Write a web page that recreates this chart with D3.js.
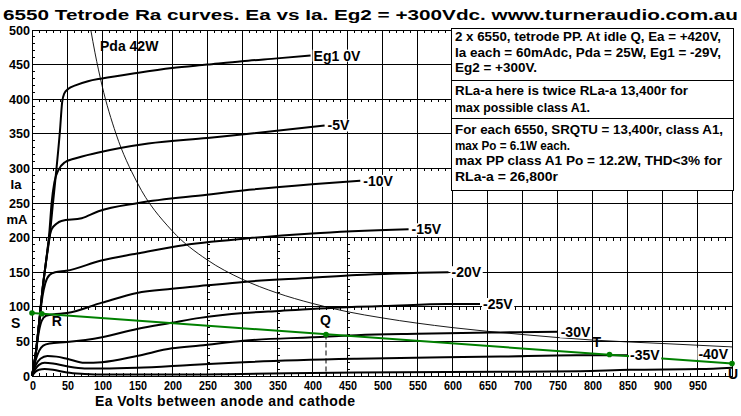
<!DOCTYPE html>
<html>
<head>
<meta charset="utf-8">
<script src="https://cdn.jsdelivr.net/npm/d3@7/dist/d3.min.js"></script>
<style>
  body{margin:0;background:#fff;}
  svg{display:block;}
  text{font-family:"Liberation Sans",Arial,sans-serif;font-weight:bold;fill:#000;}
</style>
</head>
<body>
<script>
// curves: [Ea volts, Ia mA]
const eg1_0  = [[0,0],[5,30],[10,75],[15,125],[20,165],[25,200],[30,250],[35,300],[40,355],[43,395],[46,408],[52,415],[62,420],[80,426],[100,430],[150,438],[200,445],[250,450],[300,455],[350,459],[398,463]];
const eg1_5  = [[0,0],[5,30],[10,75],[15,125],[20,165],[25,210],[28,250],[32,280],[38,298],[47,309],[60,314],[95,323],[166,336],[250,344],[310,350],[418,362]];
const eg1_10 = [[0,0],[5,30],[10,75],[15,125],[20,165],[24,195],[28,212],[35,220],[42,224],[71,228],[95,238],[152,250],[250,262],[310,269],[400,277],[469,282]];
const eg1_15 = [[0,0],[5,30],[10,75],[15,115],[19,134],[25,146],[33,150],[49,152],[99,167],[150,177],[209,188],[309,199],[400,206],[538,212]];
const eg1_20 = [[0,0],[5,30],[10,65],[14,80],[20,87],[30,89],[50,91],[100,106],[150,120],[200,126],[250,131],[302,136],[400,142],[464,146],[595,150]];
const eg1_25 = [[0,0],[5,22],[10,36],[16,44],[25,47],[50,49],[100,56],[150,68],[200,77],[240,84],[302,91],[354,94],[464,100],[502,101],[592,104],[640,104]];
const eg1_30 = [[0,0],[5,15],[12,25],[22,29],[35,28],[50,25],[75,19],[100,20],[150,29],[200,40],[240,44],[302,51],[400,56],[464,59],[550,61],[669,63],[751,64]];
const eg1_35 = [[0,0],[5,10],[10,16],[18,19],[30,18],[50,14],[75,11],[100,11],[150,12],[226,16],[302,20],[464,25],[669,28],[778,30],[850,30]];
const eg1_40 = [[0,0],[5,6],[10,9],[18,10],[30,9],[50,5],[75,3],[100,2],[200,2],[300,3],[464,5],[669,6],[783,7],[854,9],[954,10],[1000,12]];
const curveLabels = ["Eg1 0V","-5V","-10V","-15V","-20V","-25V","-30V","-35V","-40V"];

// 42W anode dissipation limit
const pda42 = [[84,500],[90,467],[100,420],[120,350],[150,280],[200,210],[250,168],[300,140],[350,120],[400,105],[450,93],[500,84],[600,70],[700,60],[800,52],[900,47],[1000,42]];

// load line points S R Q T U
const loadNames = ["S","R","Q","T","U"];
const loadPts = [[0,91],[14,90],[420,60],[825,31],[1000,18]];

const xTicks = d3.range(0,951,50);
const yTicks = d3.range(0,501,50);

const title = "6550 Tetrode Ra curves. Ea vs Ia.  Eg2 = +300Vdc. www.turneraudio.com.au";
const noteLines = [
  ["2 x 6550, tetrode PP. At idle Q, Ea = +420V,",
   "Ia each = 60mAdc, Pda = 25W, Eg1 = -29V,",
   "Eg2 = +300V."],
  ["RLa-a here is twice RLa-a 13,400r for",
   "max possible class A1."],
  ["For each 6550, SRQTU = 13,400r, class A1,",
   "max Po = 6.1W each.",
   "max PP class A1 Po = 12.2W,  THD<3% for",
   "RLa-a =  26,800r"]
];

window.onload = function(){
  const W = 741, H = 416;
  const svg = d3.select("body").append("svg").attr("width",W).attr("height",H);

  const x = d3.scaleLinear().domain([0,1000]).range([32,732]);
  const y = d3.scaleLinear().domain([0,500]).range([376,30]);

  const grid = svg.append("g").attr("stroke","#000").attr("stroke-width",1).attr("shape-rendering","crispEdges");
  // grid every 50V / 50mA
  grid.selectAll("line.v").data(d3.range(50,951,50)).enter().append("line")
    .attr("x1",d=>x(d)).attr("x2",d=>x(d)).attr("y1",y(500)).attr("y2",y(0));
  grid.selectAll("line.h").data(d3.range(50,451,50)).enter().append("line")
    .attr("x1",x(0)).attr("x2",x(1000)).attr("y1",d=>y(d)).attr("y2",d=>y(d));
  grid.append("rect").attr("x",x(0)).attr("y",y(500)).attr("width",x(1000)-x(0)).attr("height",y(0)-y(500))
    .attr("fill","none");

  // minor ticks: every 10V on the 100mA lines, every 10mA on a few verticals
  let mt = [];
  [0,100,200,300,400,500].forEach(ia=>{
    d3.range(10,1000,10).filter(v=>v%50).forEach(v=>{
      let dy = ia===0 ? -3 : 3;
      mt.push([x(v),y(ia),x(v),y(ia)+dy]);
    });
  });
  d3.range(10,500,10).filter(i=>i%50).forEach(i=>mt.push([x(0),y(i),x(0)+3,y(i)]));
  [250,350,450].forEach(v=>{
    d3.range(10,200,10).filter(i=>i%50).forEach(i=>mt.push([x(v),y(i),x(v)+3,y(i)]));
  });
  grid.selectAll("line.t").data(mt).enter().append("line")
    .attr("x1",d=>d[0]).attr("y1",d=>d[1]).attr("x2",d=>d[2]).attr("y2",d=>d[3]);

  const line = d3.line().x(d=>x(d[0])).y(d=>y(d[1])).curve(d3.curveMonotoneX);

  // Pda hyperbola, thin
  svg.append("path").attr("d",line(pda42)).attr("fill","none").attr("stroke","#000").attr("stroke-width",0.9);

  // the valve curves
  const curves = [eg1_0,eg1_5,eg1_10,eg1_15,eg1_20,eg1_25,eg1_30,eg1_35,eg1_40];
  svg.selectAll("path.curve").data(curves).enter().append("path")
    .attr("d",line).attr("fill","none").attr("stroke","#000").attr("stroke-width",2);

  // load line (under the curve labels)
  svg.append("path").attr("d",d3.line().x(d=>x(d[0])).y(d=>y(d[1]))([loadPts[0],loadPts[4]]))
    .attr("stroke","#008000").attr("stroke-width",2).attr("fill","none");
  svg.append("line").attr("x1",x(loadPts[2][0])).attr("x2",x(loadPts[2][0]))
    .attr("y1",y(loadPts[2][1])).attr("y2",y(0)).attr("stroke","#000").attr("stroke-dasharray","5,3");

  // curve labels at the end of each curve (last one sits above, to the left)
  curves.forEach((c,i)=>{
    let p = c[c.length-1];
    let last = i===curves.length-1;
    let g = svg.append("g");
    let t = g.append("text").attr("font-size",14).attr("font-weight","normal")
      .attr("x",x(p[0])+(last?-4:3)).attr("y",y(p[1])+(last?-9:5))
      .attr("text-anchor",last?"end":"start").text(curveLabels[i]);
    let bb = t.node().getBBox();
    g.insert("rect","text").attr("x",bb.x-1).attr("y",bb.y+2).attr("width",bb.width+2).attr("height",bb.height-4).attr("fill","#fff");
  });

  svg.selectAll("circle.lp").data(loadPts).enter().append("circle")
    .attr("cx",d=>x(d[0])).attr("cy",d=>y(d[1])).attr("r",2.8).attr("fill","#008000");
  const lpOff = [[-21,15],[10,12],[-6,-9],[-17,-8],[-4,15]];
  svg.selectAll("text.lp").data(loadNames).enter().append("text")
    .attr("font-size",14).attr("font-weight","normal")
    .attr("x",(d,i)=>x(loadPts[i][0])+lpOff[i][0]).attr("y",(d,i)=>y(loadPts[i][1])+lpOff[i][1])
    .text(d=>d);

  svg.append("text").attr("x",100).attr("y",51).attr("font-size",14).attr("font-weight","normal").text("Pda 42W");

  // axis labels
  svg.selectAll("text.yt").data(yTicks).enter().append("text")
    .attr("x",30).attr("y",d=>y(d)+4.5).attr("text-anchor","end").attr("font-size",13)
    .attr("textLength",d=>String(d).length*7).attr("lengthAdjust","spacingAndGlyphs").text(d=>d);
  svg.selectAll("text.xt").data(xTicks).enter().append("text")
    .attr("x",d=>x(d)+1).attr("y",390).attr("text-anchor","middle").attr("font-size",13)
    .attr("textLength",d=>String(d).length*6).attr("lengthAdjust","spacingAndGlyphs").text(d=>d);
  svg.append("text").attr("x",95).attr("y",406).attr("font-size",14).attr("textLength",260).text("Ea Volts between anode and cathode");
  svg.append("text").attr("x",16).attr("y",189).attr("text-anchor","middle").attr("font-size",13).text("Ia");
  svg.append("text").attr("x",17).attr("y",224).attr("text-anchor","middle").attr("font-size",13).text("mA");

  svg.append("text").attr("x",3).attr("y",20).attr("font-size",14)
    .attr("textLength",735).attr("lengthAdjust","spacingAndGlyphs").text(title);

  // notes box, top right
  const box = svg.append("g");
  const bx = 451, bw = 282;
  const sections = [[28,80],[80,118],[118,190]];
  const baselines = [[41,57,72],[95,112],[134,150,165,181]];
  const widths = [[266,266,82],[233,135],[268,115,267,103]];
  sections.forEach((s,i)=>{
    box.append("rect").attr("x",bx).attr("y",s[0]).attr("width",bw).attr("height",s[1]-s[0])
      .attr("fill","#fff").attr("stroke","#000").attr("shape-rendering","crispEdges");
    noteLines[i].forEach((t,j)=>{
      box.append("text").attr("x",bx+4).attr("y",baselines[i][j]).attr("font-size",12.5)
        .attr("textLength",widths[i][j]).attr("lengthAdjust","spacingAndGlyphs").text(t);
    });
  });
};
</script>
</body>
</html>
